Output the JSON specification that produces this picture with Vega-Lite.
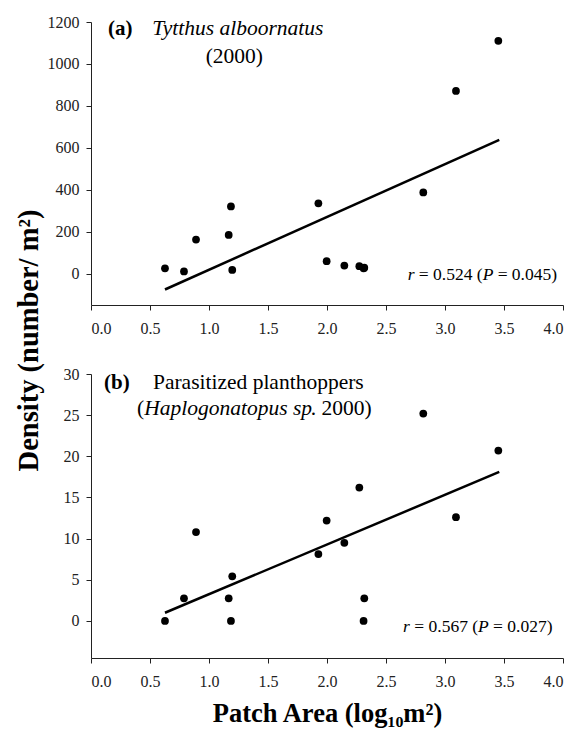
{
  "$schema": "https://vega.github.io/schema/vega-lite/v6.json",
  "padding": {"left": 14, "top": 14, "right": 5, "bottom": 2},
  "background": "#ffffff",
  "bounds": "flush",
  "spacing": 69,
  "config": {
    "view": {"stroke": null},
    "font": "Liberation Serif",
    "axis": {
      "grid": false,
      "domainColor": "#222",
      "tickColor": "#222",
      "labelColor": "#222",
      "labelFont": "Liberation Serif",
      "labelFontSize": 16,
      "tickSize": 5,
      "labelPadding": 7,
      "titleFont": "Liberation Serif",
      "titleFontWeight": "bold",
      "titleColor": "#000"
    },
    "text": {"font": "Liberation Serif", "color": "#000"}
  },
  "vconcat": [
    {
      "width": 472,
      "height": 283,
      "encoding": {
        "x": {"field": "area", "type": "quantitative", "scale": {"domain": [0, 4], "nice": false},
              "axis": {"values": [0, 0.5, 1, 1.5, 2, 2.5, 3, 3.5, 4], "format": ".1f", "title": null, "labelPadding": 10}},
        "y": {"field": "density", "type": "quantitative", "scale": {"domain": [-150, 1200], "nice": false},
              "axis": {"values": [0, 200, 400, 600, 800, 1000, 1200], "format": "d", "title": "Density (number/ m²)", "titleFontSize": 28.5, "titleY": 318, "titlePadding": 4}}
      },
      "layer": [
        {
          "data": {"values": [
            {"area": 0.627, "density": 25}, {"area": 0.788, "density": 10}, {"area": 0.89, "density": 162},
            {"area": 1.167, "density": 184}, {"area": 1.186, "density": 320}, {"area": 1.197, "density": 17},
            {"area": 1.927, "density": 335}, {"area": 1.997, "density": 59}, {"area": 2.147, "density": 38},
            {"area": 2.274, "density": 35}, {"area": 2.31, "density": 25}, {"area": 2.316, "density": 28},
            {"area": 2.816, "density": 387}, {"area": 3.093, "density": 871}, {"area": 3.452, "density": 1110}
          ]},
          "mark": {"type": "circle", "size": 60, "color": "#000", "opacity": 1}
        },
        {
          "data": {"values": [{"area": 0.627, "density": -76}, {"area": 3.46, "density": 638}]},
          "mark": {"type": "line", "color": "#000", "strokeWidth": 2.5}
        },
        {
          "data": {"values": [{"area": 0.144, "density": 1167, "label": "(a)"}]},
          "mark": {"type": "text", "align": "left", "baseline": "middle", "fontSize": 21, "fontWeight": "bold"},
          "encoding": {"text": {"field": "label"}}
        },
        {
          "data": {"values": [{"area": 0.52, "density": 1167, "label": "Tytthus alboornatus"}]},
          "mark": {"type": "text", "align": "left", "baseline": "middle", "fontSize": 21.5, "fontStyle": "italic"},
          "encoding": {"text": {"field": "label"}}
        },
        {
          "data": {"values": [{"area": 1.215, "density": 1033, "label": "(2000)"}]},
          "mark": {"type": "text", "align": "center", "baseline": "middle", "fontSize": 21.5},
          "encoding": {"text": {"field": "label"}}
        },
        {
          "data": {"values": [{"area": 2.684, "density": -5, "label": "r"}, {"area": 3.319, "density": -5, "label": "P"}]},
          "mark": {"type": "text", "align": "left", "baseline": "middle", "fontSize": 17.5, "fontStyle": "italic"},
          "encoding": {"text": {"field": "label"}}
        },
        {
          "data": {"values": [{"area": 2.778, "density": -5, "label": "= 0.524 ("}, {"area": 3.446, "density": -5, "label": "= 0.045)"}]},
          "mark": {"type": "text", "align": "left", "baseline": "middle", "fontSize": 17.5},
          "encoding": {"text": {"field": "label"}}
        }
      ]
    },
    {
      "width": 472,
      "height": 284,
      "encoding": {
        "x": {"field": "area", "type": "quantitative", "scale": {"domain": [0, 4], "nice": false},
              "axis": {"values": [0, 0.5, 1, 1.5, 2, 2.5, 3, 3.5, 4], "format": ".1f", "title": "Patch Area (log₁₀m²)", "titleFontSize": 26.5, "titlePadding": 11, "labelPadding": 10}},
        "y": {"field": "density", "type": "quantitative", "scale": {"domain": [-4.5, 30], "nice": false},
              "axis": {"values": [0, 5, 10, 15, 20, 25, 30], "format": "d", "title": null}}
      },
      "layer": [
        {
          "data": {"values": [
            {"area": 0.627, "density": 0}, {"area": 0.788, "density": 2.75}, {"area": 0.89, "density": 10.8},
            {"area": 1.167, "density": 2.75}, {"area": 1.186, "density": 0}, {"area": 1.197, "density": 5.42},
            {"area": 1.927, "density": 8.13}, {"area": 1.997, "density": 12.2}, {"area": 2.147, "density": 9.5},
            {"area": 2.274, "density": 16.2}, {"area": 2.31, "density": 0}, {"area": 2.316, "density": 2.75},
            {"area": 2.816, "density": 25.2}, {"area": 3.093, "density": 12.6}, {"area": 3.452, "density": 20.7}
          ]},
          "mark": {"type": "circle", "size": 60, "color": "#000", "opacity": 1}
        },
        {
          "data": {"values": [{"area": 0.627, "density": 1.0}, {"area": 3.46, "density": 18.1}]},
          "mark": {"type": "line", "color": "#000", "strokeWidth": 2.5}
        },
        {
          "data": {"values": [{"area": 0.11, "density": 28.85, "label": "(b)"}]},
          "mark": {"type": "text", "align": "left", "baseline": "middle", "fontSize": 21, "fontWeight": "bold"},
          "encoding": {"text": {"field": "label"}}
        },
        {
          "data": {"values": [
            {"area": 0.525, "density": 28.85, "label": "Parasitized planthoppers"},
            {"area": 0.39, "density": 25.8, "label": "("},
            {"area": 1.863, "density": 25.8, "label": ". 2000)"}
          ]},
          "mark": {"type": "text", "align": "left", "baseline": "middle", "fontSize": 21.5},
          "encoding": {"text": {"field": "label"}}
        },
        {
          "data": {"values": [{"area": 0.451, "density": 25.8, "label": "Haplogonatopus sp"}]},
          "mark": {"type": "text", "align": "left", "baseline": "middle", "fontSize": 21.5, "fontStyle": "italic"},
          "encoding": {"text": {"field": "label"}}
        },
        {
          "data": {"values": [{"area": 2.644, "density": -0.73, "label": "r"}, {"area": 3.28, "density": -0.73, "label": "P"}]},
          "mark": {"type": "text", "align": "left", "baseline": "middle", "fontSize": 17.5, "fontStyle": "italic"},
          "encoding": {"text": {"field": "label"}}
        },
        {
          "data": {"values": [{"area": 2.74, "density": -0.73, "label": "= 0.567 ("}, {"area": 3.407, "density": -0.73, "label": "= 0.027)"}]},
          "mark": {"type": "text", "align": "left", "baseline": "middle", "fontSize": 17.5},
          "encoding": {"text": {"field": "label"}}
        }
      ]
    }
  ]
}
